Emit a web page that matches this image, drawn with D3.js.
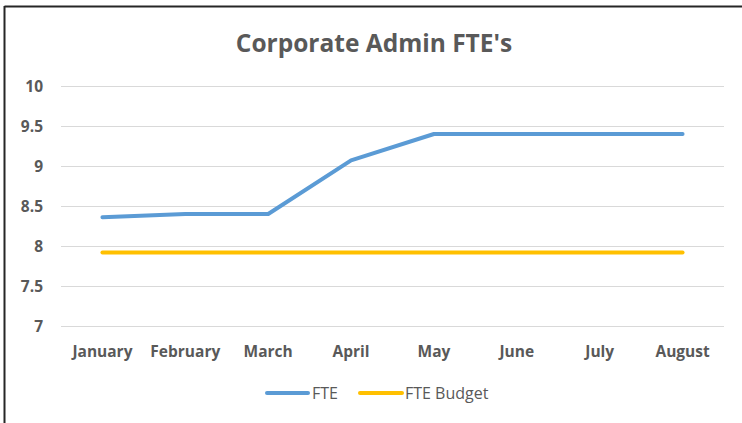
<!DOCTYPE html>
<html>
<head>
<meta charset="utf-8">
<script src="https://cdn.jsdelivr.net/npm/d3@7"></script>
<style>
  html, body { margin: 0; padding: 0; background: #fff; }
  svg { display: block; }
  text { font-family: "Open Sans", Lato, "Liberation Sans", sans-serif; fill: #595959; }
</style>
</head>
<body>
<svg id="chart" width="742" height="423"></svg>
<script>
const months = ["January", "February", "March", "April", "May", "June", "July", "August"];
const fte = [8.36, 8.40, 8.40, 9.07, 9.40, 9.40, 9.40, 9.40];
const fteBudget = [7.92, 7.92, 7.92, 7.92, 7.92, 7.92, 7.92, 7.92];
const yTicks = [7, 7.5, 8, 8.5, 9, 9.5, 10];
const seriesNames = ["FTE", "FTE Budget"];
const seriesColors = ["#5B9BD5", "#FFC000"];

const svg = d3.select("#chart");
const W = 742, H = 423;
const plot = { left: 61, right: 724, top: 86, bottom: 326 };
const font = "'Open Sans', Lato, sans-serif";

// chart frame: top and left edges
svg.append("line").attr("x1", 4.5).attr("x2", W).attr("y1", 6.5).attr("y2", 6.5)
  .attr("stroke", "#262626").attr("stroke-width", 2);
svg.append("line").attr("x1", 4.5).attr("x2", 4.5).attr("y1", 6).attr("y2", H)
  .attr("stroke", "#262626").attr("stroke-width", 2);

// title
svg.append("text").attr("x", 374).attr("y", 52).attr("text-anchor", "middle")
  .attr("font-size", 24.5).attr("font-weight", "bold").text("Corporate Admin FTE's");

const x = d3.scaleBand().domain(months).range([plot.left, plot.right]);
const y = d3.scaleLinear().domain([7, 10]).range([plot.bottom, plot.top]);

// horizontal gridlines
svg.append("g").selectAll("line").data(yTicks).join("line")
  .attr("x1", plot.left).attr("x2", plot.right)
  .attr("y1", d => Math.round(y(d)) + 0.5).attr("y2", d => Math.round(y(d)) + 0.5)
  .attr("stroke", "#d9d9d9").attr("stroke-width", 1);

// y axis labels
const yAxis = d3.axisLeft(y).tickValues(yTicks).tickSize(0).tickPadding(0)
  .tickFormat(d3.format("~g"));
const gy = svg.append("g").attr("transform", `translate(${43},0)`).call(yAxis);
gy.select(".domain").remove();
gy.selectAll("text").attr("font-size", 15.5).attr("font-weight", "bold")
  .attr("fill", "#595959").attr("dy", "0.36em")
  .style("font-family", font);

// x axis labels
const xAxis = d3.axisBottom(x).tickSize(0).tickPadding(0);
const gx = svg.append("g").attr("transform", `translate(0,${357})`).call(xAxis);
gx.select(".domain").remove();
gx.selectAll("text").attr("font-size", 15.5).attr("font-weight", "bold")
  .attr("fill", "#595959").attr("y", 0).attr("dy", 0)
  .style("font-family", font);

const cx = d => x(d) + x.bandwidth() / 2;
const line = d3.line().x(d => cx(d[0])).y(d => y(d[1]));

[fte, fteBudget].forEach((vals, i) => {
  svg.append("path")
    .datum(months.map((m, j) => [m, vals[j]]))
    .attr("d", line)
    .attr("fill", "none")
    .attr("stroke", seriesColors[i])
    .attr("stroke-width", 4)
    .attr("stroke-linecap", "round")
    .attr("stroke-linejoin", "round");
});

// legend
const legendItems = [
  { name: seriesNames[0], color: seriesColors[0], x0: 267, x1: 308, tx: 312 },
  { name: seriesNames[1], color: seriesColors[1], x0: 360, x1: 402, tx: 405 }
];
const lg = svg.append("g");
legendItems.forEach(it => {
  lg.append("line").attr("x1", it.x0).attr("x2", it.x1).attr("y1", 393).attr("y2", 393)
    .attr("stroke", it.color).attr("stroke-width", 4).attr("stroke-linecap", "round");
  lg.append("text").attr("x", it.tx).attr("y", 399).attr("font-size", 16).text(it.name);
});
</script>
</body>
</html>
